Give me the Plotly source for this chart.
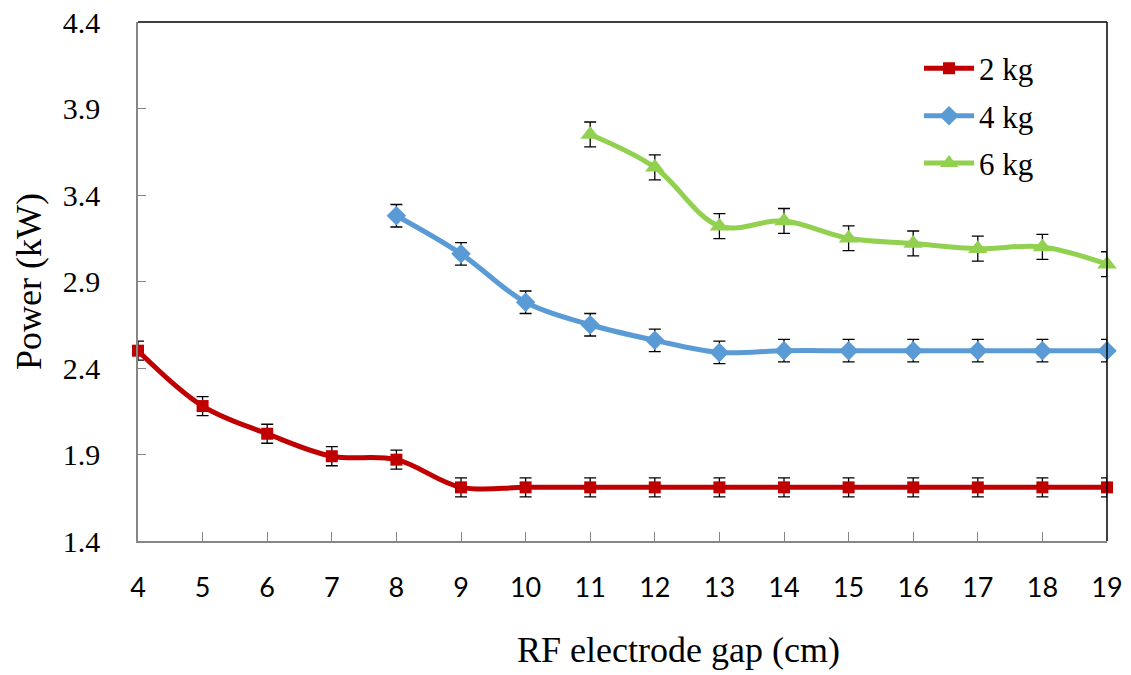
import plotly.graph_objects as go

# RF electrode gap (cm) and measured power (kW) for each load mass
gap_2kg = [4, 5, 6, 7, 8, 9, 10, 11, 12, 13, 14, 15, 16, 17, 18, 19]
power_2kg = [2.50, 2.18, 2.02, 1.89, 1.87, 1.71, 1.71, 1.71, 1.71, 1.71, 1.71, 1.71, 1.71, 1.71, 1.71, 1.71]
err_2kg = 0.055

gap_4kg = [8, 9, 10, 11, 12, 13, 14, 15, 16, 17, 18, 19]
power_4kg = [3.28, 3.06, 2.78, 2.65, 2.56, 2.49, 2.50, 2.50, 2.50, 2.50, 2.50, 2.50]
err_4kg = 0.065

gap_6kg = [11, 12, 13, 14, 15, 16, 17, 18, 19]
power_6kg = [3.75, 3.56, 3.22, 3.25, 3.15, 3.12, 3.09, 3.10, 3.00]
err_6kg = 0.072

y_ticks = [1.4, 1.9, 2.4, 2.9, 3.4, 3.9, 4.4]
x_ticks = list(range(4, 20))

series = [
    ("2 kg", gap_2kg, power_2kg, err_2kg, "#C00000", "square", 12),
    ("4 kg", gap_4kg, power_4kg, err_4kg, "#5B9BD5", "diamond", 15),
    ("6 kg", gap_6kg, power_6kg, err_6kg, "#92D050", "triangle-up", 17),
]

fig = go.Figure()
for name, xs, ys, err, color, symbol, size in series:
    fig.add_trace(go.Scatter(
        x=xs, y=ys, name=name, legendgroup=name, mode="lines+markers",
        line=dict(color=color, width=5, shape="spline", smoothing=1.0),
        marker=dict(color=color, symbol=symbol, size=size),
        error_y=dict(type="constant", value=err, color="black", thickness=1.3, width=6),
        cliponaxis=False,
    ))

serif = "Liberation Serif"

fig.update_layout(
    width=1131, height=675,
    margin=dict(l=138, r=24, t=22, b=134, autoexpand=False),
    paper_bgcolor="white", plot_bgcolor="white",
    showlegend=True,
    legend=dict(
        x=0.806, y=0.962, xanchor="left", yanchor="top",
        font=dict(family=serif, size=31, color="black"),
        bgcolor="rgba(0,0,0,0)", itemwidth=50, tracegroupgap=4,
    ),
    xaxis=dict(
        range=[4, 19], tickvals=x_ticks, ticktext=[str(v) for v in x_ticks],
        showgrid=False, zeroline=False, automargin=False,
        showline=True, linecolor="#868686", linewidth=1.5,
        ticks="inside", ticklen=9, tickcolor="#868686", tickwidth=1,
        tickfont=dict(family="Lato", size=27, color="black"),
        ticklabelstandoff=22,
    ),
    yaxis=dict(
        range=[1.4, 4.4], tickvals=y_ticks, ticktext=[f"{v:.1f}" for v in y_ticks],
        showgrid=False, zeroline=False, automargin=False,
        showline=True, linecolor="#868686", linewidth=1.5,
        ticks="inside", ticklen=8, tickcolor="#868686", tickwidth=1,
        tickfont=dict(family=serif, size=30, color="black"),
        ticklabelstandoff=30,
    ),
    shapes=[
        dict(type="line", xref="paper", yref="paper", x0=0, x1=1, y0=1, y1=1,
             line=dict(color="black", width=1.5)),
        dict(type="line", xref="paper", yref="paper", x0=1, x1=1, y0=0, y1=1,
             line=dict(color="black", width=1.5)),
    ],
    annotations=[
        dict(text="Power (kW)", xref="paper", yref="paper", x=-0.113, y=0.5,
             textangle=-90, showarrow=False, xanchor="center", yanchor="middle",
             font=dict(family=serif, size=36, color="black")),
        dict(text="RF electrode gap (cm)", xref="paper", yref="paper", x=0.558, y=-0.21,
             showarrow=False, xanchor="center", yanchor="middle",
             font=dict(family=serif, size=36, color="black")),
    ],
)

fig.write_html("out.html")
